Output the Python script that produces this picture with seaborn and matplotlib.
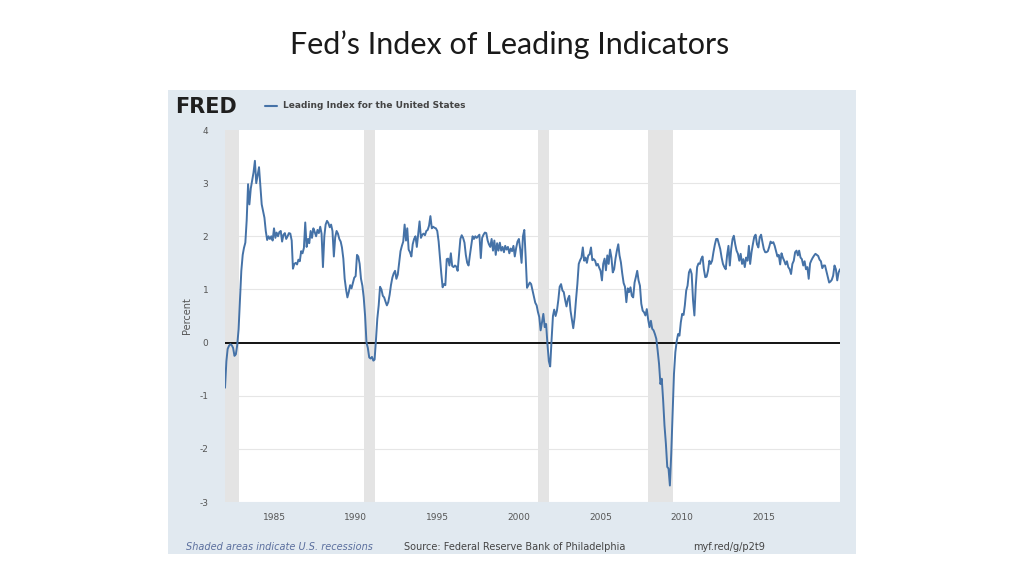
import matplotlib
matplotlib.use('Agg')
import matplotlib.pyplot as plt
import matplotlib.patches as mpatches
import seaborn as sns
import numpy as np
import pandas as pd

# monthly Leading Index for the United States (Jan 1982 onwards)
idx_1980s = [
    -0.85, -0.35, -0.12, -0.06, -0.03, -0.05, -0.10, -0.25, -0.22, -0.05, 0.25, 0.80,
    1.35, 1.65, 1.78, 1.88, 2.30, 2.98, 2.60, 2.90, 3.05, 3.20, 3.42, 3.00,
    3.15, 3.30, 2.95, 2.60, 2.48, 2.35, 2.10, 1.93, 2.00, 1.95, 2.00, 1.92,
    2.15, 1.97, 2.07, 2.00, 2.08, 2.10, 1.90, 2.03, 2.06, 1.95, 2.00, 2.06,
    2.05, 1.92, 1.39, 1.48, 1.50, 1.47, 1.56, 1.53, 1.72, 1.68, 1.78, 2.26,
    1.80, 1.95, 1.87, 2.10, 1.97, 2.15, 2.08, 2.00, 2.12, 2.06, 2.18, 2.05,
    1.42, 2.00, 2.22, 2.29, 2.25, 2.17, 2.22, 2.10, 1.62, 1.98, 2.10, 2.05,
    1.95, 1.90, 1.79, 1.58, 1.20, 1.00, 0.85, 0.95, 1.08, 1.02, 1.12, 1.22,
]
idx_1990s = [
    1.25, 1.65, 1.62, 1.48, 1.20, 1.07, 0.85, 0.50, 0.00, -0.10, -0.28, -0.30,
    -0.27, -0.34, -0.32, 0.05, 0.45, 0.70, 1.05, 1.00, 0.88, 0.85, 0.77, 0.70,
    0.76, 0.90, 1.08, 1.22, 1.30, 1.35, 1.20, 1.28, 1.50, 1.72, 1.82, 1.90,
    2.22, 1.92, 2.15, 1.75, 1.70, 1.62, 1.85, 1.95, 2.00, 1.80, 2.05, 2.28,
    1.97, 2.03, 2.05, 2.02, 2.10, 2.12, 2.20, 2.38, 2.15, 2.18, 2.16, 2.15,
    2.10, 1.90, 1.62, 1.30, 1.04, 1.10, 1.08, 1.57, 1.58, 1.45, 1.68, 1.44,
    1.42, 1.45, 1.43, 1.35, 1.65, 1.95, 2.02, 1.97, 1.88, 1.65, 1.50, 1.45,
    1.65, 1.83, 2.00, 1.95, 2.00, 1.97, 2.00, 2.03, 1.59, 1.97, 2.03, 2.07,
    2.06, 1.92, 1.85, 1.80, 1.95, 1.73, 1.92, 1.65, 1.87, 1.73, 1.88, 1.73,
    1.80, 1.70, 1.82, 1.75, 1.80, 1.68, 1.77, 1.72, 1.82, 1.62, 1.78, 1.90,
]
idx_2000s = [
    1.95, 1.75, 1.50, 2.00, 2.12, 1.60, 1.03, 1.08, 1.13, 1.10, 0.98, 0.87,
    0.75, 0.70, 0.58, 0.48, 0.23, 0.38, 0.54, 0.29, 0.35, -0.03, -0.35, -0.45,
    0.05, 0.50, 0.62, 0.50, 0.60, 0.80, 1.05, 1.10, 0.98, 0.95, 0.80, 0.68,
    0.82, 0.88, 0.60, 0.43, 0.27, 0.48, 0.80, 1.10, 1.48, 1.55, 1.60, 1.79,
    1.54, 1.60, 1.50, 1.64, 1.66, 1.79, 1.55, 1.57, 1.54, 1.45, 1.48, 1.41,
    1.35, 1.17, 1.48, 1.58, 1.36, 1.64, 1.48, 1.75, 1.60, 1.32, 1.38, 1.58,
    1.73, 1.85, 1.64, 1.51, 1.30, 1.12, 1.05, 0.76, 1.02, 0.95, 1.04, 0.88,
    0.85, 1.13, 1.23, 1.35, 1.17, 1.07, 0.73, 0.60, 0.57, 0.51, 0.63, 0.44,
    0.29, 0.41, 0.26, 0.23, 0.16, 0.07, -0.15, -0.40, -0.78, -0.68, -1.09, -1.56,
    -1.90, -2.34, -2.37, -2.69, -2.09, -1.34, -0.59, -0.18, 0.03, 0.16, 0.13, 0.38,
]
idx_2010s = [
    0.54, 0.52, 0.70, 0.98, 1.07, 1.32, 1.38, 1.29, 0.79, 0.51, 1.07, 1.42,
    1.49, 1.48, 1.57, 1.62, 1.38, 1.23, 1.24, 1.35, 1.54, 1.48, 1.54, 1.70,
    1.84, 1.95, 1.95, 1.85, 1.76, 1.60, 1.48, 1.42, 1.38, 1.64, 1.82, 1.45,
    1.76, 1.95, 2.01, 1.85, 1.73, 1.67, 1.54, 1.67, 1.48, 1.57, 1.42, 1.60,
    1.54, 1.82, 1.48, 1.70, 1.85, 1.99, 2.03, 1.85, 1.79, 1.98, 2.03, 1.89,
    1.76, 1.70, 1.70, 1.72, 1.80, 1.90, 1.87, 1.89, 1.82, 1.72, 1.62, 1.65,
    1.47, 1.68, 1.60, 1.54, 1.47, 1.53, 1.42, 1.38, 1.29, 1.48, 1.54, 1.70,
    1.73, 1.64, 1.73, 1.60, 1.57, 1.45, 1.53, 1.38, 1.42, 1.20, 1.49, 1.55,
    1.60, 1.64, 1.67, 1.65, 1.63, 1.56, 1.53, 1.40, 1.45, 1.45, 1.34, 1.23,
    1.13, 1.15, 1.18, 1.26, 1.45, 1.38, 1.17, 1.32, 1.38,
]

rec_start = ['1981-07-01', '1990-07-01', '2001-03-01', '2007-12-01']
rec_end = ['1982-11-01', '1991-03-01', '2001-11-01', '2009-06-01']
year_ticks = [1985, 1990, 1995, 2000, 2005, 2010, 2015]
y_ticks = [-3, -2, -1, 0, 1, 2, 3, 4]

values = idx_1980s + idx_1990s + idx_2000s + idx_2010s
df = pd.DataFrame({
    'date': pd.date_range('1982-01-01', periods=len(values), freq='MS'),
    'percent': values,
})

sns.set_style('white')
plt.rcParams['font.family'] = ['DejaVu Sans']

fig = plt.figure(figsize=(10.24, 5.76), dpi=100)
fig.patch.set_facecolor('white')

# FRED panel background, drawn behind the axes
panel = mpatches.Rectangle((168 / 1024, 1 - 554 / 576), 688 / 1024, 464 / 576,
                           transform=fig.transFigure, facecolor='#e1e9f0',
                           edgecolor='none', zorder=-5)
fig.add_artist(panel)

ax = fig.add_axes([225 / 1024, 1 - 502 / 576, 615 / 1024, 372 / 576])
ax.set_zorder(1)
ax.set_facecolor('white')

for s, e in zip(rec_start, rec_end):
    ax.axvspan(pd.Timestamp(s), pd.Timestamp(e), color='#e4e4e4', lw=0, zorder=1)

for yv in [1, 2, 3, -1, -2]:
    ax.axhline(yv, color='#e6e6e6', lw=0.8, zorder=0.5)
ax.axhline(-3, color='#e8ecf0', lw=0.8, zorder=0.5)
ax.axhline(0, color='black', lw=1.3, zorder=2)

sns.lineplot(data=df, x='date', y='percent', ax=ax, color='#4572a7', lw=1.4, zorder=3)

ax.set_xlim(pd.Timestamp('1982-01-01'), pd.Timestamp('2019-09-01'))
ax.set_ylim(-3, 4)
ax.set_yticks(y_ticks)
ax.set_yticklabels([str(v) for v in y_ticks])
ax.set_xticks([pd.Timestamp(f'{y}-01-01') for y in year_ticks])
ax.set_xticklabels([str(y) for y in year_ticks])
ax.tick_params(axis='y', length=0, pad=12, labelsize=6.5, labelcolor='#555555')
ax.tick_params(axis='x', length=0, pad=8, labelsize=6.5, labelcolor='#555555')
for sp in ax.spines.values():
    sp.set_visible(False)
ax.set_xlabel('')
ax.set_ylabel('Percent', fontsize=7, color='#555555', labelpad=5)

# header and footer texts
fig.text(510 / 1024, 1 - 45 / 576, 'Fed\u2019s Index of Leading Indicators',
         ha='center', va='center', fontsize=22, family=['Lato', 'DejaVu Sans'], color='#1a1a1a')
fig.text(175 / 1024, 1 - 107 / 576, 'FRED', ha='left', va='center', fontsize=15,
         fontweight='heavy', color='#1f1f1f')
fig.add_artist(plt.Line2D([265 / 1024, 277 / 1024], [1 - 106 / 576, 1 - 106 / 576],
                          color='#4572a7', lw=1.5, transform=fig.transFigure))
fig.text(283 / 1024, 1 - 106 / 576, 'Leading Index for the United States', ha='left',
         va='center', fontsize=6.5, fontweight='bold', color='#444444')
fig.text(186 / 1024, 1 - 547 / 576, 'Shaded areas indicate U.S. recessions', ha='left',
         va='center', fontsize=7, style='italic', color='#5b6f9e')
fig.text(404 / 1024, 1 - 547 / 576, 'Source: Federal Reserve Bank of Philadelphia', ha='left',
         va='center', fontsize=7, color='#444444')
fig.text(693 / 1024, 1 - 547 / 576, 'myf.red/g/p2t9', ha='left', va='center', fontsize=7,
         color='#444444')

fig.savefig('out.png', dpi=100, facecolor='white')
